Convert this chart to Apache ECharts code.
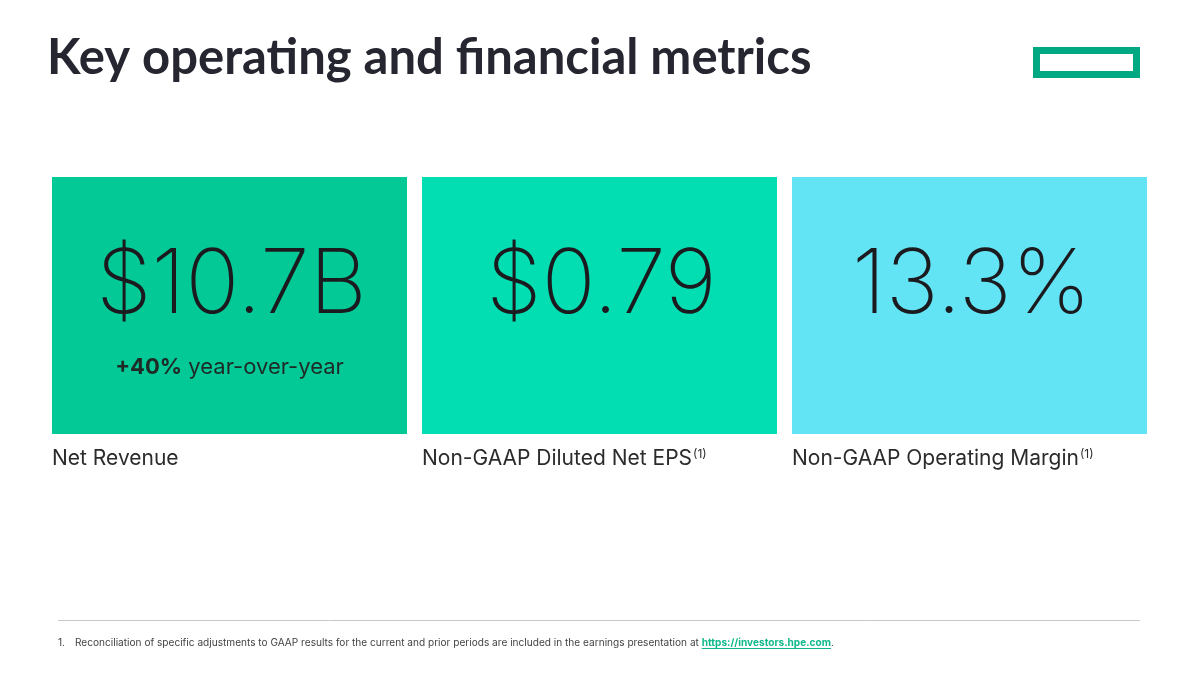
<!DOCTYPE html>
<html>
<head>
<meta charset="utf-8">
<title>Key operating and financial metrics</title>
<script src="https://cdn.jsdelivr.net/npm/echarts@6/dist/echarts.min.js"></script>
<style>
    html, body { margin: 0; padding: 0; background: #fff; }
    #main { width: 1200px; height: 675px; }
</style>
</head>
<body>
<div id="main"></div>
<script>
'use strict';

var titleText = 'Key operating and financial metrics';
var metricValues = ['$10.7B', '$0.79', '13.3%'];
var metricNotes = [['+40%', ' year-over-year'], null, null];
var metricLabels = ['Net Revenue', 'Non-GAAP Diluted Net EPS', 'Non-GAAP Operating Margin'];
var metricFootRefs = ['', '(1)', '(1)'];
var cardColors = ['#03C997', '#02DEB1', '#63E4F5'];
var footnoteText = 'Reconciliation of specific adjustments to GAAP results for the current and prior periods are included in the earnings presentation at ';
var footnoteLink = 'https://investors.hpe.com';

var chart = echarts.init(document.getElementById('main'), null, {renderer: 'canvas'});

// card layout
var cardLeft = 52, cardTop = 177, cardW = 355, cardH = 257, cardGap = 15;
var ink = '#1b1b1f';
var footFont = 10.1;

// measure text width for the link underline
var measure = function(text, font) {
    var ctx = document.createElement('canvas').getContext('2d');
    ctx.font = font;
    return ctx.measureText(text).width;
};

var elements = [];

// title
elements.push({
    type: 'text',
    x: 47, y: 58,
    style: {
        text: titleText,
        fontFamily: 'Lato',
        fontWeight: 'bold',
        fontSize: 49,
        fill: '#262631',
        verticalAlign: 'middle'
    }
});

// logo
elements.push({
    type: 'rect',
    shape: {x: 1036.5, y: 50.5, width: 100, height: 24},
    style: {fill: 'none', stroke: '#01A982', lineWidth: 7}
});

metricValues.forEach(function(val, i) {
    var x = cardLeft + i * (cardW + cardGap);
    var cx = x + cardW / 2;
    elements.push({
        type: 'rect',
        shape: {x: x, y: cardTop, width: cardW, height: cardH},
        style: {fill: cardColors[i]}
    });
    elements.push({
        type: 'text',
        x: cx + 2, y: 286,
        style: {
            text: val,
            fontFamily: 'Inter',
            fontWeight: 200,
            fontSize: 89,
            fill: ink,
            align: 'center',
            verticalAlign: 'middle'
        }
    });
    if (metricNotes[i]) {
        elements.push({
            type: 'text',
            x: cx, y: 367,
            style: {
                text: '{b|' + metricNotes[i][0] + '}{r|' + metricNotes[i][1] + '}',
                align: 'center',
                verticalAlign: 'middle',
                rich: {
                    b: {fontFamily: 'Inter', fontWeight: 'bold', fontSize: 22, fill: '#1f2a26'},
                    r: {fontFamily: 'Inter', fontWeight: 'normal', fontSize: 22, fill: '#1f2a26'}
                }
            }
        });
    }
    elements.push({
        type: 'text',
        x: x, y: 459,
        style: {
            text: '{m|' + metricLabels[i] + '}' + (metricFootRefs[i] ? '{s|' + metricFootRefs[i] + '}' : ''),
            align: 'left',
            verticalAlign: 'middle',
            rich: {
                m: {fontFamily: 'Inter', fontSize: 21, fill: '#2b2b2b', lineHeight: 22},
                s: {fontFamily: 'Inter', fontSize: 12, fill: '#2b2b2b', lineHeight: 13, verticalAlign: 'top', padding: [0, 0, 0, 1]}
            }
        }
    });
});

// footnote rule
elements.push({
    type: 'line',
    shape: {x1: 58, y1: 620.5, x2: 1140, y2: 620.5},
    style: {stroke: '#c8c8c8', lineWidth: 1}
});

// footnote
elements.push({
    type: 'text',
    x: 58, y: 643,
    style: {
        text: '1.',
        fontFamily: 'Inter', fontSize: footFont, fill: '#444',
        verticalAlign: 'middle'
    }
});
elements.push({
    type: 'text',
    x: 75, y: 643,
    style: {
        text: '{t|' + footnoteText + '}{a|' + footnoteLink + '}{t|.}',
        verticalAlign: 'middle',
        rich: {
            t: {fontFamily: 'Inter', fontSize: footFont, fill: '#444'},
            a: {fontFamily: 'Inter', fontWeight: 'bold', fontSize: footFont, fill: '#0DB88A'}
        }
    }
});
var linkX = 75 + measure(footnoteText, footFont + 'px Inter');
var linkW = measure(footnoteLink, 'bold ' + footFont + 'px Inter');
elements.push({
    type: 'line',
    shape: {x1: linkX, y1: 648.5, x2: linkX + linkW, y2: 648.5},
    style: {stroke: '#0DB88A', lineWidth: 1}
});

chart.setOption({
    backgroundColor: '#ffffff',
    animation: false,
    graphic: {elements: elements}
});

window.addEventListener('resize', function() {
    chart.resize();
});
</script>
</body>
</html>
